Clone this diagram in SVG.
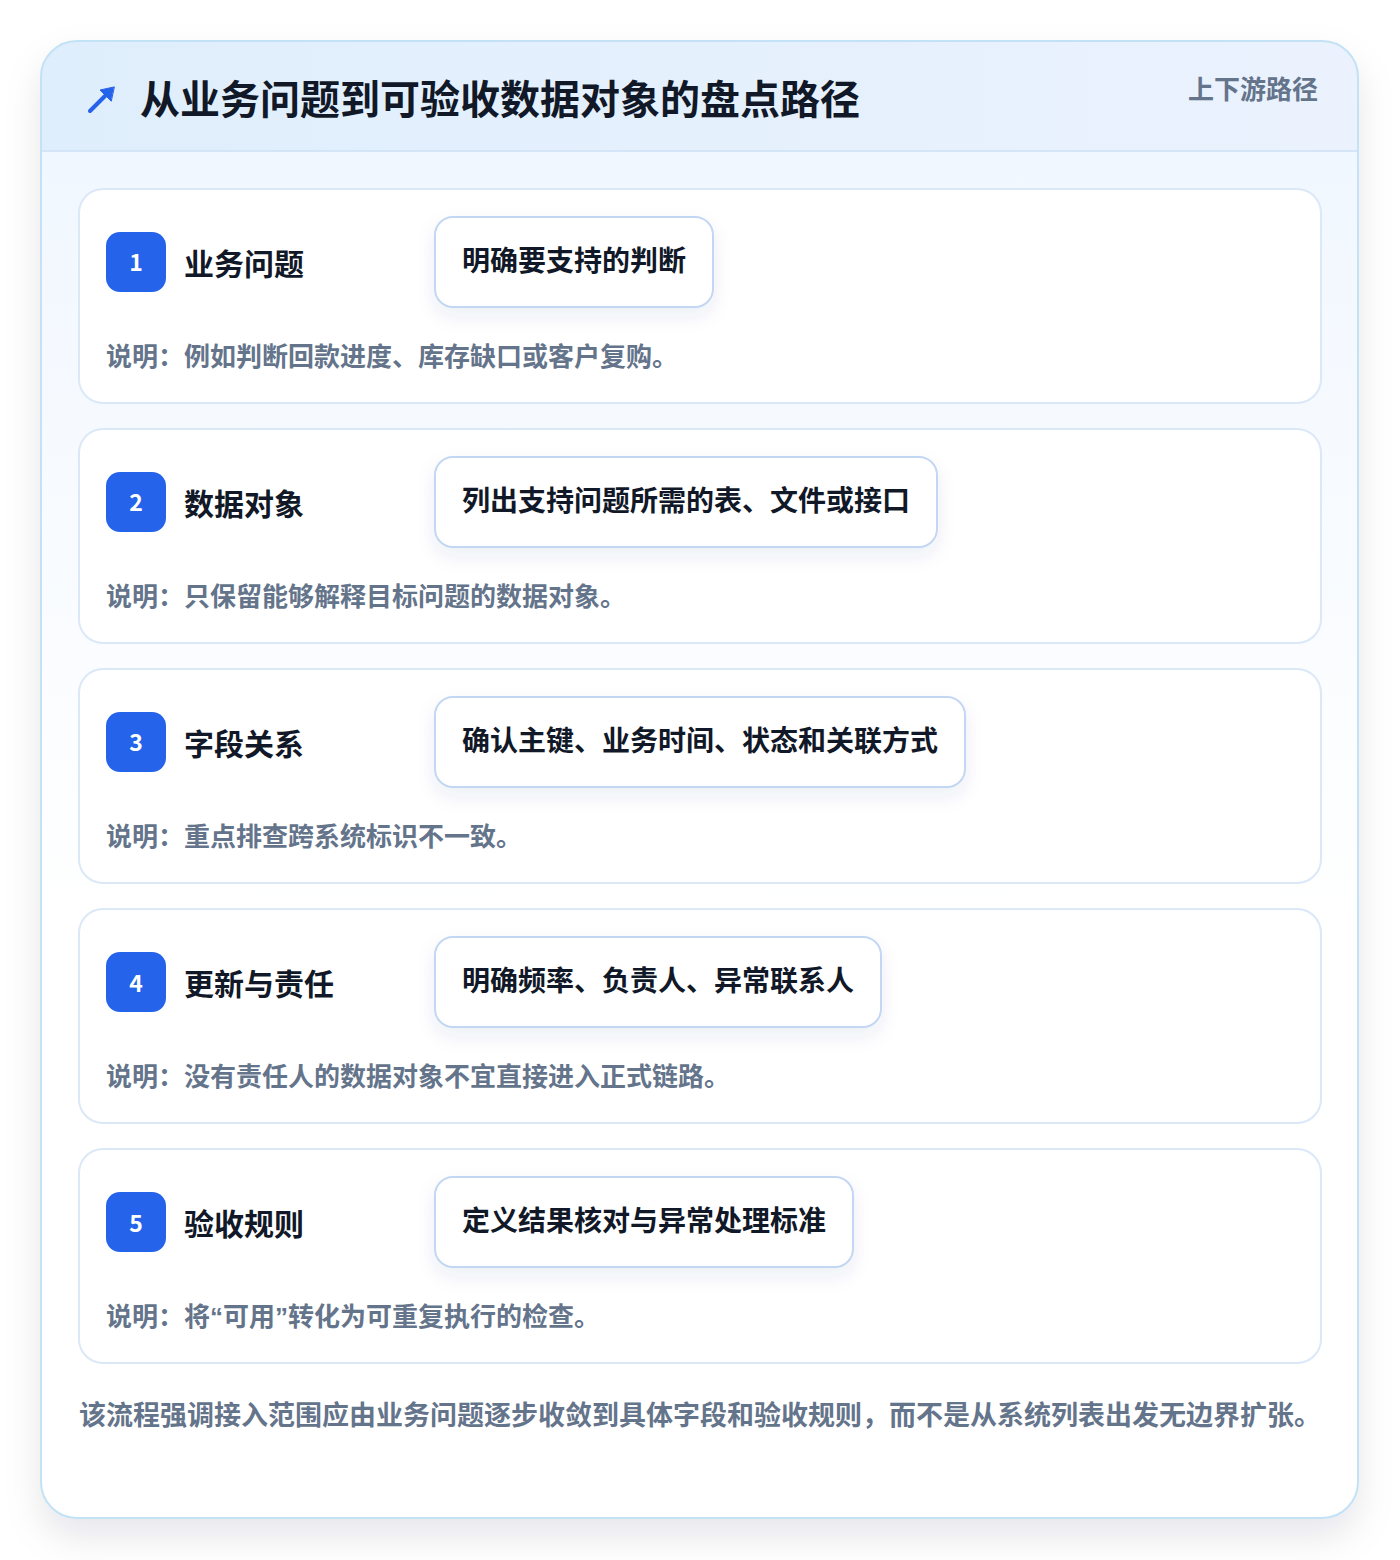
<svg xmlns="http://www.w3.org/2000/svg" width="1400" height="1560" viewBox="0 0 1400 1560">
<defs>
<linearGradient id="hdr" x1="0" y1="0" x2="1" y2="0"><stop offset="0" stop-color="#dfeefc"/><stop offset="1" stop-color="#ebf2fe"/></linearGradient>
<linearGradient id="body" x1="0" y1="0" x2="0" y2="1"><stop offset="0" stop-color="#eff6ff"/><stop offset="0.6" stop-color="#ffffff"/><stop offset="1" stop-color="#ffffff"/></linearGradient>
<filter id="outerShadow" x="-10%" y="-10%" width="120%" height="120%"><feDropShadow dx="0" dy="18" stdDeviation="18" flood-color="#0f172a" flood-opacity="0.10"/></filter>
<filter id="pillShadow" x="-20%" y="-30%" width="140%" height="170%"><feDropShadow dx="0" dy="8" stdDeviation="9" flood-color="#1e3a8a" flood-opacity="0.08"/></filter>
<clipPath id="outerClip"><rect x="41" y="41" width="1317" height="1477" rx="36"/></clipPath>
</defs>
<style>
text{font-family:"Noto Sans CJK SC","Noto Sans",sans-serif;font-weight:700}
.card{fill:#ffffff;stroke:#dbe8f8;stroke-width:2}
.badge{fill:#2563eb}
.num{fill:#ffffff;font-size:23px;text-anchor:middle}
.lbl{fill:#111827;font-size:30px}
.pill{fill:#ffffff;stroke:#c3d6f3;stroke-width:2}
.ptx{fill:#111827;font-size:28px}
.note{fill:#64748b;font-size:26px}
.q{font-family:"Liberation Sans",sans-serif}
</style>
<rect width="1400" height="1560" fill="#ffffff"/>
<g id="frame">
<rect x="41" y="41" width="1317" height="1477" rx="36" fill="#ffffff" filter="url(#outerShadow)"/>
<g clip-path="url(#outerClip)">
<rect x="41" y="41" width="1317" height="1477" fill="url(#body)"/>
<rect x="41" y="41" width="1317" height="110" fill="url(#hdr)"/>
<line x1="41" y1="151" x2="1358" y2="151" stroke="#d4e5f8" stroke-width="2"/>
</g>
<rect x="41" y="41" width="1317" height="1477" rx="36" fill="none" stroke="#c3e2f6" stroke-width="2"/>
</g>
<g id="header">
<g stroke="#2563eb" stroke-width="4" stroke-linecap="round" fill="#2563eb">
<line x1="90" y1="111" x2="110" y2="91"/>
<polygon points="114,87 100,90 111,101" stroke-width="1"/>
</g>
<text x="140" y="114" font-size="40" fill="#111827">从业务问题到可验收数据对象的盘点路径</text>
<text x="1318" y="99" font-size="26" fill="#64748b" text-anchor="end">上下游路径</text>
</g>
<g id="step1">
<rect class="card" x="79" y="189" width="1242" height="214" rx="24"/>
<rect class="badge" x="106" y="232" width="60" height="60" rx="14"/>
<text class="num" x="136" y="271">1</text>
<text class="lbl" x="184" y="275">业务问题</text>
<rect class="pill" x="435" y="217" width="278" height="90" rx="18" filter="url(#pillShadow)"/>
<text class="ptx" x="462" y="271">明确要支持的判断</text>
<text class="note" x="106" y="366">说明：例如判断回款进度、库存缺口或客户复购。</text>
</g>
<g id="step2">
<rect class="card" x="79" y="429" width="1242" height="214" rx="24"/>
<rect class="badge" x="106" y="472" width="60" height="60" rx="14"/>
<text class="num" x="136" y="511">2</text>
<text class="lbl" x="184" y="515">数据对象</text>
<rect class="pill" x="435" y="457" width="502" height="90" rx="18" filter="url(#pillShadow)"/>
<text class="ptx" x="462" y="511">列出支持问题所需的表、文件或接口</text>
<text class="note" x="106" y="606">说明：只保留能够解释目标问题的数据对象。</text>
</g>
<g id="step3">
<rect class="card" x="79" y="669" width="1242" height="214" rx="24"/>
<rect class="badge" x="106" y="712" width="60" height="60" rx="14"/>
<text class="num" x="136" y="751">3</text>
<text class="lbl" x="184" y="755">字段关系</text>
<rect class="pill" x="435" y="697" width="530" height="90" rx="18" filter="url(#pillShadow)"/>
<text class="ptx" x="462" y="751">确认主键、业务时间、状态和关联方式</text>
<text class="note" x="106" y="846">说明：重点排查跨系统标识不一致。</text>
</g>
<g id="step4">
<rect class="card" x="79" y="909" width="1242" height="214" rx="24"/>
<rect class="badge" x="106" y="952" width="60" height="60" rx="14"/>
<text class="num" x="136" y="992">4</text>
<text class="lbl" x="184" y="995">更新与责任</text>
<rect class="pill" x="435" y="937" width="446" height="90" rx="18" filter="url(#pillShadow)"/>
<text class="ptx" x="462" y="991">明确频率、负责人、异常联系人</text>
<text class="note" x="106" y="1086">说明：没有责任人的数据对象不宜直接进入正式链路。</text>
</g>
<g id="step5">
<rect class="card" x="79" y="1149" width="1242" height="214" rx="24"/>
<rect class="badge" x="106" y="1192" width="60" height="60" rx="14"/>
<text class="num" x="136" y="1232">5</text>
<text class="lbl" x="184" y="1235">验收规则</text>
<rect class="pill" x="435" y="1177" width="418" height="90" rx="18" filter="url(#pillShadow)"/>
<text class="ptx" x="462" y="1231">定义结果核对与异常处理标准</text>
<text class="note" x="106" y="1326">说明：将<tspan class="q">“</tspan>可用<tspan class="q">”</tspan>转化为可重复执行的检查。</text>
</g>
<g id="connectors"></g>
<text x="79" y="1425" font-size="27" fill="#64748b">该流程强调接入范围应由业务问题逐步收敛到具体字段和验收规则，而不是从系统列表出发无边界扩张。</text>
</svg>
